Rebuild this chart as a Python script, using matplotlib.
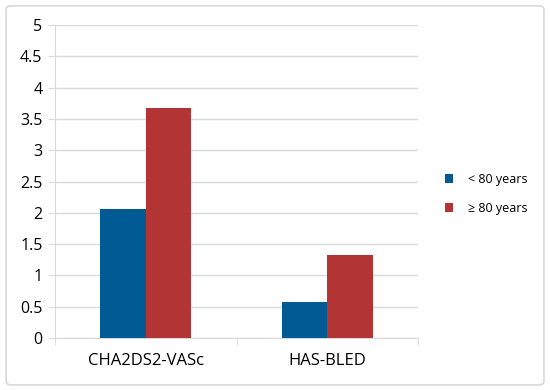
import numpy as np
import matplotlib.pyplot as plt
from matplotlib.patches import FancyBboxPatch

# Data
categories = ['CHA2DS2-VASc', 'HAS-BLED']
under_80 = [2.06, 0.57]
over_80 = [3.67, 1.33]
series_labels = ['< 80 years', '≥ 80 years']

plt.rcParams['font.family'] = ['Open Sans', 'DejaVu Sans']

fig = plt.figure(figsize=(5.5, 3.9), dpi=100)
ax = fig.add_axes([0.1, 0.1333, 0.66, 0.8026])

# outer chart border
fig.patches.append(FancyBboxPatch((0.011, 0.013), 0.978, 0.972, boxstyle='round,pad=0,rounding_size=0.01',
                                  transform=fig.transFigure, facecolor='none',
                                  edgecolor='#d9d9d9', linewidth=1.2))

x = np.arange(len(categories))
w = 0.25
ax.bar(x - w / 2, under_80, w, color='#005A94', label=series_labels[0], zorder=3)
ax.bar(x + w / 2, over_80, w, color='#B33434', label=series_labels[1], zorder=3)

ax.set_xlim(-0.5, 1.5)
ax.set_ylim(0, 5)
ax.set_yticks(np.arange(0, 5.01, 0.5))
ax.set_yticklabels(['0', '0.5', '1', '1.5', '2', '2.5', '3', '3.5', '4', '4.5', '5'])
ax.yaxis.grid(True, color='#d9d9d9', linewidth=1, zorder=0)

ax.set_xticks(x)
ax.set_xticklabels(categories)
ax.set_xticks([-0.5, 0.5, 1.5], minor=True)
ax.tick_params(axis='x', which='major', length=0, pad=11, labelsize=12)
ax.tick_params(axis='x', which='minor', length=5, color='#d9d9d9', direction='out')
ax.tick_params(axis='y', length=5, color='#d9d9d9', labelsize=11.5, pad=4)

for s in ['top', 'right']:
    ax.spines[s].set_visible(False)
for s in ['left', 'bottom']:
    ax.spines[s].set_color('#d9d9d9')

fig.legend(loc='center left', bbox_to_anchor=(0.788, 0.503), frameon=False,
           handlelength=0.7, handleheight=0.7, handletextpad=1.2, labelspacing=1.3, fontsize=9)

plt.savefig('out.png', dpi=100)
